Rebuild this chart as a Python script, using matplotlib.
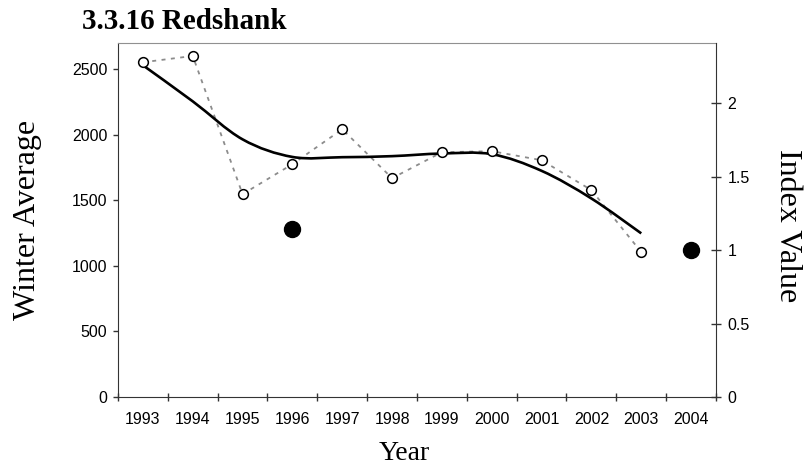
import matplotlib
matplotlib.use("Agg")
import matplotlib.pyplot as plt
from matplotlib.path import Path
from matplotlib.patches import PathPatch

years = ["1993", "1994", "1995", "1996", "1997", "1998",
         "1999", "2000", "2001", "2002", "2003", "2004"]

# winter average counts (open circles), 1993-2003
winter_avg = [2553, 2601, 1547, 1776, 2042, 1669, 1867, 1875, 1806, 1578, 1105]

# smoothed trend, 1993-2003
trend = [2530, 2255, 1965, 1831, 1829, 1837, 1857, 1852, 1725, 1514, 1248]

# index values (filled dots)
index_years = ["1996", "2004"]
index_vals = [1.143, 1.0]

base_count = 1120  # count that equals an index of 1
y_top = 2700

plt.rcParams["font.family"] = ["Liberation Sans", "DejaVu Sans"]


def smooth_path(xs, ys):
    """
    in: x and y values
    out: Path made of cubic curves through every point
    """
    pts = list(zip(xs, ys))
    verts = [pts[0]]
    codes = [Path.MOVETO]
    n = len(pts)
    for i in range(n - 1):
        p0 = pts[i - 1] if i > 0 else pts[i]
        p1 = pts[i]
        p2 = pts[i + 1]
        p3 = pts[i + 2] if i + 2 < n else pts[i + 1]
        c1 = (p1[0] + (p2[0] - p0[0]) / 6, p1[1] + (p2[1] - p0[1]) / 6)
        c2 = (p2[0] - (p3[0] - p1[0]) / 6, p2[1] - (p3[1] - p1[1]) / 6)
        verts += [c1, c2, p2]
        codes += [Path.CURVE4] * 3
    return Path(verts, codes)


fig = plt.figure(figsize=(8.12, 4.73), dpi=100)
ax = fig.add_axes([118 / 812, 1 - 397 / 473, 598 / 812, 354 / 473])
ax2 = ax.twinx()

x_all = list(range(len(years)))
x_data = x_all[:len(winter_avg)]

ax.plot(x_data, winter_avg, color="#8c8c8c", lw=1.3,
        linestyle=(0, (2.2, 3.0)), zorder=2)
ax.add_patch(PathPatch(smooth_path(x_data, trend), facecolor="none",
                       edgecolor="black", lw=1.9, zorder=3))
ax.plot(x_data, winter_avg, linestyle="none", marker="o", markersize=7,
        markerfacecolor="white", markeredgecolor="black",
        markeredgewidth=1.1, zorder=4)

ix = [years.index(y) for y in index_years]
ax2.plot(ix, index_vals, linestyle="none", marker="o", markersize=11.5,
         color="black")

ax.set_xlim(-0.5, len(years) - 0.5)
ax.set_ylim(0, y_top)
ax2.set_ylim(0, y_top / base_count)

# category boundaries carry the tick marks, centres carry the labels
ax.set_xticks([i - 0.5 for i in range(len(years) + 1)])
ax.set_xticklabels([])
ax.set_xticks(x_all, minor=True)
ax.set_xticklabels(years, minor=True, fontsize=11.5)
ax.tick_params(axis="x", which="major", direction="inout", length=6,
               width=1, color="#333333")
ax.tick_params(axis="x", which="minor", length=0, pad=10.5)

ax.set_yticks([0, 500, 1000, 1500, 2000, 2500])
ax.tick_params(axis="y", direction="out", length=3.6, width=1,
               color="#333333", labelsize=11.5, pad=4)

ax2.set_yticks([0, 0.5, 1, 1.5, 2])
ax2.set_yticklabels(["0", "0.5", "1", "1.5", "2"])
ax2.tick_params(axis="y", direction="inout", length=6.5, width=1,
                color="#333333", labelsize=11.5, pad=5)

for side in ["left", "bottom"]:
    ax.spines[side].set_color("#333333")
ax.spines["top"].set_color("#909090")
ax.spines["right"].set_visible(False)
for side in ["left", "bottom", "top"]:
    ax2.spines[side].set_visible(False)
ax2.spines["right"].set_color("#333333")

serif = ["Liberation Serif", "DejaVu Serif"]
fig.text(82 / 812, 1 - 29 / 473, "3.3.16 Redshank", family=serif,
         fontsize=21, fontweight="bold", ha="left", va="baseline")
fig.text(28 / 812, 1 - 220 / 473, "Winter Average", family=serif,
         fontsize=23, rotation=90, ha="center", va="center")
fig.text(788 / 812, 1 - 226 / 473, "Index Value", family=serif,
         fontsize=23, rotation=270, ha="center", va="center")
fig.text(404 / 812, 1 - 460 / 473, "Year", family=serif,
         fontsize=20, ha="center", va="baseline")

fig.savefig("out.png", dpi=100)
